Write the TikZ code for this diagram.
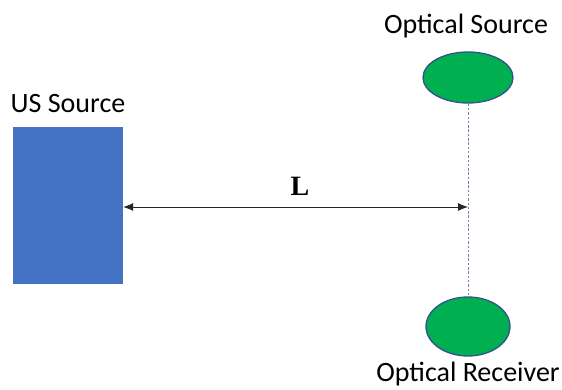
\documentclass[tikz,border=0pt]{standalone}
\usepackage{fontspec}
\setmainfont{Carlito}
\newfontfamily\serifb{Liberation Serif}
\usetikzlibrary{shapes.geometric,arrows.meta}
\definecolor{usblue}{HTML}{4472C4}
\definecolor{okgreen}{HTML}{00B050}
\definecolor{edgeblue}{HTML}{2F528F}
\begin{document}
\begin{tikzpicture}[x=1pt,y=-1pt,
  lbl/.style={font=\fontsize{28}{32}\selectfont, inner sep=0pt},
  optic/.style={ellipse, fill=okgreen, draw=edgeblue, line width=1.3pt, inner sep=0pt},
  meas/.style={{Latex[length=10pt,width=8pt]}-{Latex[length=10pt,width=8pt]}, line width=0.8pt, black!85}]
\useasboundingbox (0,0) rectangle (562,390);
\node[fill=usblue, minimum width=110pt, minimum height=157pt, inner sep=0pt] (us) at (68,205.5) {};
\node[lbl] (uslbl) at (68,104) {US Source};
\node[optic, minimum width=90pt, minimum height=51pt] (src) at (468,77.5) {};
\node[optic, minimum width=84pt, minimum height=59pt] (rcv) at (468,326.5) {};
\node[lbl] (srclbl) at (466,26) {Optical Source};
\node[lbl] (rcvlbl) at (468,374) {Optical Receiver};
\draw[edgeblue!70, line width=0.6pt, dash pattern=on 2.5pt off 1.8pt] (src.south) -- (rcv.north);
\coordinate (p) at (468,207);
\draw[meas] (us.east |- p) -- (p);
\node[font=\serifb\bfseries\fontsize{28}{32}\selectfont, inner sep=0pt] (L) at (300,186) {L};
\end{tikzpicture}
\end{document}
